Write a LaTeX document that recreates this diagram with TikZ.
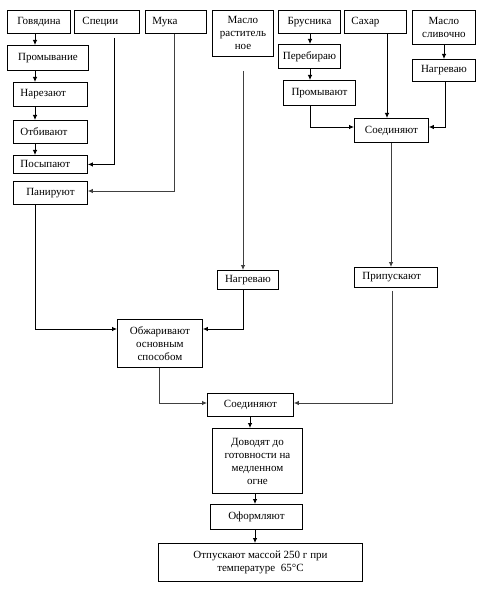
\documentclass[tikz,border=0pt]{standalone}
\usepackage{fontspec}
\setmainfont{Liberation Serif}
\usetikzlibrary{arrows.meta}
\tikzset{
  box/.style={draw, line width=0.9pt, inner sep=0pt, anchor=north west,
    align=center, font=\fontsize{11}{13}\selectfont},
  lbox/.style={box, align=left},
  arr/.style={line width=0.8pt, -{Latex[length=5pt,width=4.5pt]}},
  garr/.style={arr, draw=black!75}
}
\begin{document}
\begin{tikzpicture}[x=1pt,y=-1pt]
\path[use as bounding box] (0,0) rectangle (478,593);
% top row
\node[box, minimum width=63, minimum height=23] (gov) at (7,10) {Говядина};
\node[lbox, text width=49, inner xsep=8pt, minimum height=23] (spec) at (74,10) {Специи};
\node[lbox, text width=47, inner xsep=7pt, minimum height=23] (muka) at (145,10) {Мука};
\node[box, minimum width=61, minimum height=46] (mr) at (212,10) {Масло\\раститель\\ное};
\node[box, minimum width=62, minimum height=23] (brus) at (278,10) {Брусника};
\node[lbox, text width=48, inner xsep=7pt, minimum height=23] (sah) at (344,10) {Сахар};
\node[box, minimum width=63, minimum height=34] (ms) at (412,10) {Масло\\сливочно};
% left column
\node[box, minimum width=81, minimum height=25] (prom) at (7,45) {Промывание};
\node[lbox, text width=60, inner xsep=7pt, minimum height=24] (narez) at (13,82) {Нарезают};
\node[lbox, text width=60, inner xsep=7pt, minimum height=23] (otb) at (13,120) {Отбивают};
\node[lbox, text width=60, inner xsep=7pt, minimum height=18] (posyp) at (13,155) {Посыпают};
\node[box, minimum width=74, minimum height=23] (pan) at (13,181) {Панируют};
% right column
\node[box, minimum width=62, minimum height=24] (pereb) at (278,44) {Перебираю};
\node[box, minimum width=72, minimum height=25] (promyv) at (283,80) {Промывают};
\node[box, minimum width=74, minimum height=24] (soed1) at (354,118) {Соединяют};
\node[box, minimum width=63, minimum height=22] (nagr1) at (412,59) {Нагреваю};
% middle
\node[box, minimum width=61, minimum height=19] (nagr2) at (217,270) {Нагреваю};
\node[lbox, text width=67, inner xsep=8pt, minimum height=20] (prip) at (354,267) {Припускают};
\node[box, minimum width=85, minimum height=48] (obzh) at (117,319) {Обжаривают\\основным\\способом};
\node[box, minimum width=86, minimum height=23] (soed2) at (207,393) {Соединяют};
\node[box, minimum width=90, minimum height=65] (dov) at (212,428) {Доводят до\\готовности на\\медленном\\огне};
\node[box, minimum width=92, minimum height=25] (oform) at (210,504) {Оформляют};
\node[box, minimum width=204, minimum height=38] (otp) at (158,543) {Отпускают массой 250 г при\\температуре\ \ 65°C};
% column coordinates
\coordinate (c35) at (35,0);
\coordinate (c114) at (114,0);
\coordinate (c174) at (174,0);
\coordinate (c159) at (159,0);
\coordinate (c243) at (243,0);
\coordinate (c250) at (250,0);
\coordinate (c255) at (255,0);
\coordinate (c310) at (310,0);
\coordinate (c387) at (387,0);
\coordinate (c391) at (391,0);
\coordinate (c392) at (392,0);
\coordinate (c444) at (444,0);
\coordinate (c445) at (445,0);
% connectors
\draw[arr] (gov.south -| c35) -- (prom.north -| c35);
\draw[arr] (prom.south -| c35) -- (narez.north -| c35);
\draw[arr] (narez.south -| c35) -- (otb.north -| c35);
\draw[arr] (otb.south -| c35) -- (posyp.north -| c35);
\draw[arr] ([yshift=-4pt]spec.south -| c114) |- (posyp.east);
\draw[garr] (muka.south -| c174) |- ([yshift=-10pt]pan.north east);
\draw[arr] (pan.south -| c35) |- ([yshift=-10pt]obzh.north west);
\draw[garr] ([yshift=-14pt]mr.south -| c243) -- (nagr2.north -| c243);
\draw[arr] (nagr2.south -| c243) |- ([yshift=-10pt]obzh.north east);
\draw[arr] (brus.south -| c310) -- (pereb.north -| c310);
\draw[arr] (pereb.south -| c310) -- (promyv.north -| c310);
\draw[arr] (promyv.south -| c310) |- ([yshift=-9pt]soed1.north west);
\draw[arr] (sah.south -| c387) -- (soed1.north -| c387);
\draw[arr] (ms.south -| c444) -- (nagr1.north -| c444);
\draw[arr] (nagr1.south -| c445) |- ([yshift=-9pt]soed1.north east);
\draw[garr] (soed1.south -| c391) -- (prip.north -| c391);
\draw[garr] (obzh.south -| c159) |- ([yshift=-10pt]soed2.north west);
\draw[garr] ([yshift=-3pt]prip.south -| c392) |- ([yshift=-10pt]soed2.north east);
\draw[arr] (soed2.south -| c250) -- (dov.north -| c250);
\draw[arr] (dov.south -| c255) -- (oform.north -| c255);
\draw[arr] (oform.south -| c255) -- (otp.north -| c255);
\end{tikzpicture}
\end{document}
